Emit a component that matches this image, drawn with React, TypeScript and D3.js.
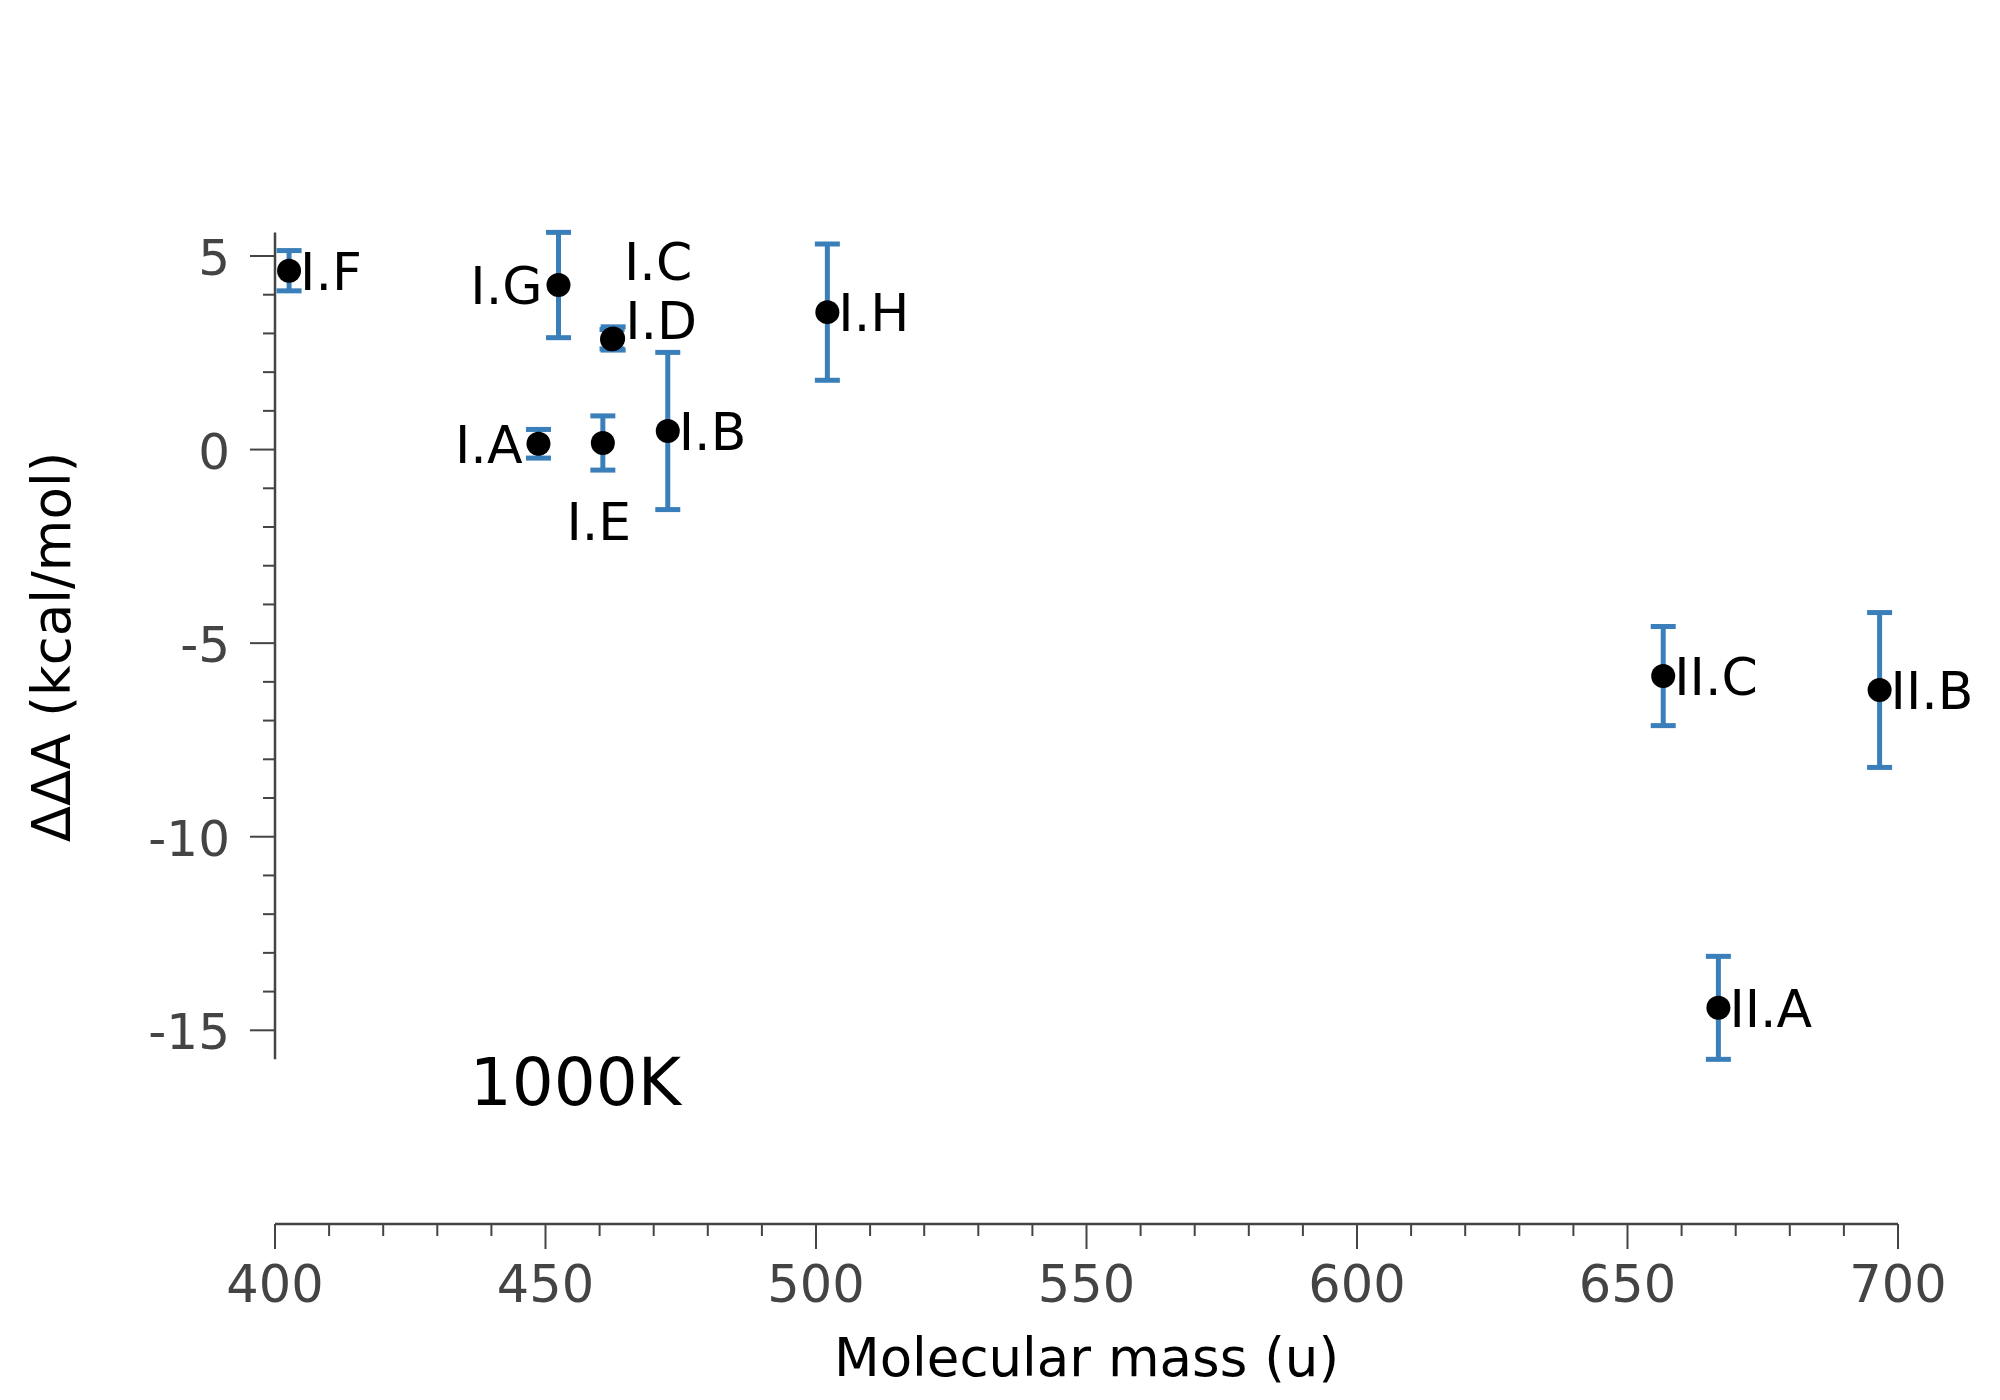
import * as d3 from "d3";

// ΔΔA at 1000K vs molecular mass
const labels = ["I.A", "I.B", "I.C", "I.D", "I.E", "I.F", "I.G", "I.H", "II.A", "II.B", "II.C"];
const masses = [448.7, 472.6, 462.3, 462.5, 460.6, 402.6, 452.4, 502.1, 666.8, 696.6, 656.6];
const deltaA = [0.15, 0.48, 2.85, 2.87, 0.17, 4.62, 4.25, 3.55, -14.42, -6.21, -5.85];
const errors = [0.37, 2.03, 0.25, 0.3, 0.7, 0.52, 1.36, 1.76, 1.33, 2.0, 1.28];
const labelSides = ["left", "right", "above", "rightUp", "below", "right", "left", "right", "right", "right", "right"];

const xTicks = [400, 450, 500, 550, 600, 650, 700];
const yTicks = [-15, -10, -5, 0, 5];

const W = 2000;
const H = 1400;
const FONT = "DejaVu Sans, sans-serif";
const AXIS = "#444";
const BLUE = "#3a7fb9";

// pixel offsets for each label placement
const PLACE: Record<string, { dx: number; dy: number; anchor: string }> = {
  right: { dx: 11, dy: 0, anchor: "start" },
  left: { dx: -16, dy: 0, anchor: "end" },
  above: { dx: 12, dy: -78, anchor: "start" },
  rightUp: { dx: 12, dy: -18, anchor: "start" },
  below: { dx: -4, dy: 78, anchor: "middle" },
};

export default function App() {
  const x = d3.scaleLinear().domain([400, 700]).range([275, 1898]);
  const y = d3.scaleLinear().domain([-15, 5]).range([1030.3, 256]);

  const axisY = 1224;
  const yMax = d3.max(deltaA.map((v, i) => v + errors[i])) as number;
  const yMin = d3.min(deltaA.map((v, i) => v - errors[i])) as number;

  const xMinor = d3.range(400, 701, 10);
  const yMinor = d3.range(Math.ceil(yMin), Math.floor(yMax) + 1, 1);

  return (
    <svg width={W} height={H} style={{ position: "absolute", left: 0, top: 0, background: "#fff" }} fontFamily={FONT}>
      {/* y axis */}
      <line x1={x(400)} x2={x(400)} y1={y(yMax)} y2={y(yMin)} stroke={AXIS} strokeWidth={2.5} />
      {yMinor.map((t) => (
        <line key={"ym" + t} x1={x(400) - (t % 5 === 0 ? 25 : 12)} x2={x(400)} y1={y(t)} y2={y(t)} stroke={AXIS} strokeWidth={2} />
      ))}
      {yTicks.map((t) => (
        <text key={"yt" + t} x={230} y={y(t)} dy="0.38em" textAnchor="end" fontSize={50} fill={AXIS}>
          {t}
        </text>
      ))}
      <text transform={`translate(70,${647}) rotate(-90)`} textAnchor="middle" fontSize={53} fill="#000">
        ΔΔA (kcal/mol)
      </text>

      {/* x axis */}
      <line x1={x(400)} x2={x(700)} y1={axisY} y2={axisY} stroke={AXIS} strokeWidth={2.5} />
      {xMinor.map((t) => (
        <line key={"xm" + t} x1={x(t)} x2={x(t)} y1={axisY} y2={axisY + (t % 50 === 0 ? 25 : 12)} stroke={AXIS} strokeWidth={2} />
      ))}
      {xTicks.map((t) => (
        <text key={"xt" + t} x={x(t)} y={1302} textAnchor="middle" fontSize={51} fill={AXIS}>
          {t}
        </text>
      ))}
      <text x={(x(400) + x(700)) / 2} y={1376} textAnchor="middle" fontSize={53} fill="#000">
        Molecular mass (u)
      </text>

      {/* error bars */}
      {labels.map((l, i) => {
        const cx = x(masses[i]);
        const top = y(deltaA[i] + errors[i]);
        const bot = y(deltaA[i] - errors[i]);
        return (
          <g key={"e" + l} stroke={BLUE} strokeWidth={5}>
            <line x1={cx} x2={cx} y1={top} y2={bot} />
            <line x1={cx - 12.5} x2={cx + 12.5} y1={top} y2={top} />
            <line x1={cx - 12.5} x2={cx + 12.5} y1={bot} y2={bot} />
          </g>
        );
      })}

      {/* points */}
      {labels.map((l, i) => (
        <circle key={"p" + l} cx={x(masses[i])} cy={y(deltaA[i])} r={12} fill="#000" />
      ))}

      {/* labels */}
      {labels.map((l, i) => {
        const p = PLACE[labelSides[i]];
        return (
          <text
            key={"l" + l}
            x={x(masses[i]) + p.dx}
            y={y(deltaA[i]) + p.dy + 19}
            textAnchor={p.anchor}
            fontSize={52}
            fill="#000"
          >
            {l}
          </text>
        );
      })}

      <text x={x(436)} y={y(-16.93)} fontSize={66} fill="#000">
        1000K
      </text>
    </svg>
  );
}
